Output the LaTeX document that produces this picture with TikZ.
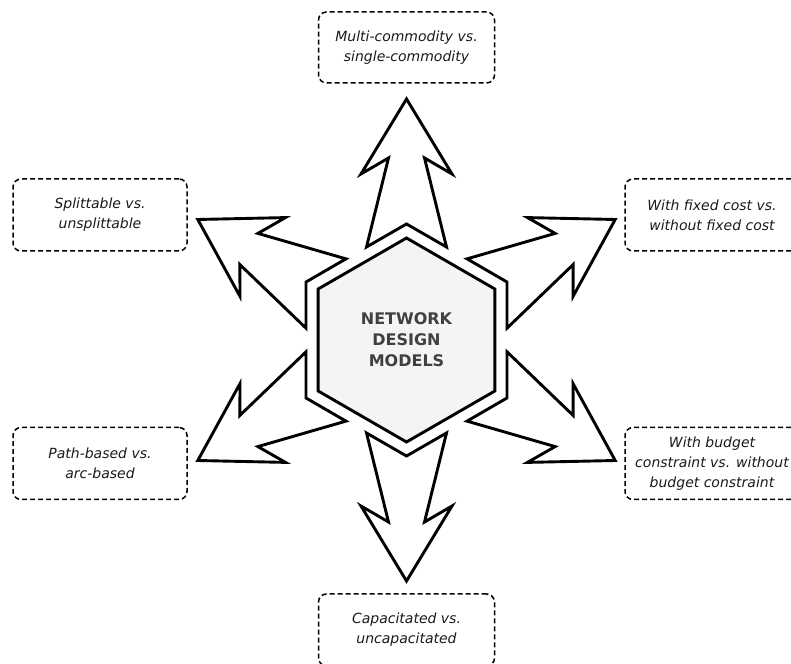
\documentclass[tikz,border=0pt]{standalone}
\usepackage{fontspec}
\setmainfont{DejaVu Sans}
\usetikzlibrary{calc}
\definecolor{hexfill}{HTML}{F4F4F4}
\definecolor{hubink}{HTML}{404040}
\definecolor{labelink}{HTML}{1A1A1A}
\tikzset{
  blockarrow/.style={draw=black, line width=2.9pt, line join=miter, fill=white},
  hexshape/.style={draw=black, line width=2.9pt, line join=miter, fill=hexfill},
  labelbox/.style={draw=black, line width=1.5pt, dash pattern=on 5pt off 3pt,
    rounded corners=8pt, minimum width=174pt, minimum height=72pt, align=center,
    inner sep=0pt, text=labelink, font=\fontsize{14}{20}\selectfont\itshape},
  hublabel/.style={align=center, text=hubink, font=\fontsize{16}{21}\selectfont\bfseries}
}
\begin{document}
\begin{tikzpicture}[x=1pt,y=1pt]
\clip (0,0) rectangle (791,663);
\coordinate (hub) at (406.5,323);
% block arrows
\foreach \ang in {30,90,150,210,270,330} {
  \begin{scope}[shift={(hub)}, rotate=\ang]
    \draw[blockarrow] (93,40) -- (182,18) -- (166,45.5) -- (241,0) -- (166,-45.5)
      -- (182,-18) -- (93,-40) -- (116,0) -- cycle;
  \end{scope}
}
% central hexagon
\draw[hexshape] ([shift={(90:102)}]hub) -- ([shift={(150:102)}]hub)
  -- ([shift={(210:102)}]hub) -- ([shift={(270:102)}]hub)
  -- ([shift={(330:102)}]hub) -- ([shift={(30:102)}]hub) -- cycle;
\node[hublabel] (hubname) at (hub) {NETWORK\\DESIGN\\MODELS};
% label boxes
\node[labelbox, minimum width=176pt, minimum height=71pt] (top) at (406.5,615.5) {Multi-commodity vs.\\single-commodity};
\node[labelbox] (ul) at (100,448) {Splittable vs.\\unsplittable};
\node[labelbox] (ur) at (712,448) {With fixed cost vs.\\without fixed cost};
\node[labelbox] (ll) at (100,199.5) {Path-based vs.\\arc-based};
\node[labelbox] (lr) at (712,199.5) {With budget\\constraint vs. without\\budget constraint};
\node[labelbox, minimum width=176pt] (bot) at (406.5,33) {Capacitated vs.\\uncapacitated};
\end{tikzpicture}
\end{document}
